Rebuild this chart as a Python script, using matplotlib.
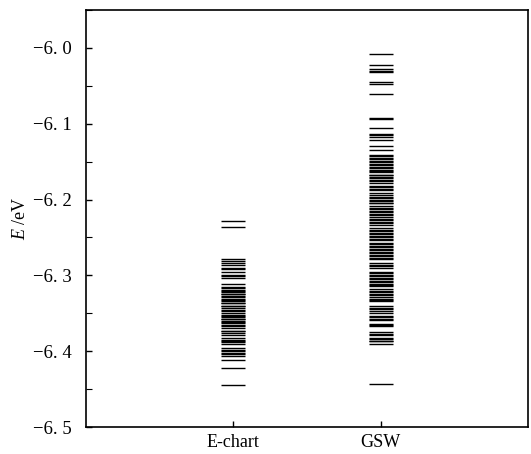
import matplotlib
matplotlib.use("Agg")
import matplotlib.pyplot as plt
from matplotlib.ticker import FixedLocator, MultipleLocator

plt.rcParams['font.family'] = ['Liberation Serif', 'DejaVu Serif']
plt.rcParams['mathtext.fontset'] = 'custom'
plt.rcParams['mathtext.it'] = 'Liberation Serif:italic'
plt.rcParams['mathtext.rm'] = 'Liberation Serif'

categories = ["E-chart", "GSW"]

echart = [-6.228, -6.236,
          -6.278, -6.281, -6.284, -6.286, -6.290, -6.292, -6.295, -6.299, -6.301, -6.303, -6.311,
          -6.316, -6.317, -6.319, -6.320, -6.322, -6.324, -6.325, -6.327, -6.329, -6.331, -6.333, -6.334,
          -6.336, -6.337, -6.340, -6.341, -6.343, -6.346, -6.347, -6.350, -6.352, -6.353, -6.355,
          -6.357, -6.358, -6.360, -6.362, -6.363,
          -6.366, -6.367, -6.369, -6.373, -6.374, -6.376, -6.379, -6.383, -6.385,
          -6.386, -6.388, -6.390,
          -6.396, -6.398, -6.400, -6.402, -6.404, -6.406,
          -6.412, -6.422, -6.444]

gsw = [-6.008, -6.023, -6.028, -6.030, -6.032, -6.045, -6.047, -6.061, -6.092, -6.094, -6.106,
       -6.113, -6.115, -6.118, -6.121, -6.129, -6.135,
       -6.141, -6.143, -6.145, -6.147, -6.149, -6.151, -6.153, -6.155, -6.157, -6.158,
       -6.161, -6.163, -6.164,
       -6.167, -6.168, -6.170, -6.172, -6.174, -6.176, -6.178,
       -6.182, -6.184, -6.186, -6.187,
       -6.192, -6.194, -6.196, -6.198, -6.200, -6.202, -6.204, -6.205,
       -6.209, -6.211, -6.213, -6.215, -6.217, -6.219, -6.220,
       -6.223, -6.225, -6.227, -6.229, -6.231, -6.233,
       -6.238, -6.240, -6.242, -6.244, -6.246, -6.248, -6.250, -6.252, -6.253,
       -6.257, -6.259, -6.261, -6.262,
       -6.265, -6.267, -6.269, -6.271, -6.273, -6.275, -6.277, -6.279,
       -6.284, -6.286, -6.288, -6.290,
       -6.295, -6.297, -6.299, -6.301, -6.303, -6.305, -6.307, -6.309, -6.311, -6.313, -6.314,
       -6.318, -6.320, -6.322, -6.324, -6.326, -6.328,
       -6.331, -6.332, -6.334,
       -6.341, -6.343, -6.345, -6.347, -6.349,
       -6.353, -6.355, -6.357, -6.359,
       -6.364, -6.366, -6.367,
       -6.375, -6.377, -6.378,
       -6.382, -6.384, -6.386, -6.387,
       -6.390, -6.443]

ytick_values = [-6.5, -6.4, -6.3, -6.2, -6.1, -6.0]
ytick_labels = ["\u22126. 5", "\u22126. 4", "\u22126. 3", "\u22126. 2", "\u22126. 1", "\u22126. 0"]

fig = plt.figure(figsize=(5.31, 4.54), dpi=100)
ax = fig.add_axes([86/531, 1-427/454, (528-86)/531, (427-10)/454])

hw = 0.081
for i, series in enumerate([echart, gsw]):
    x = i + 1
    ax.hlines(series, x - hw, x + hw, colors='black', linewidth=1.0)

ax.set_xlim(0, 3)
ax.set_ylim(-6.5, -5.95)
ax.set_xticks([1, 2])
ax.set_xticklabels(categories, fontsize=13)
ax.yaxis.set_major_locator(FixedLocator(ytick_values))
ax.set_yticklabels(ytick_labels, fontsize=13.5)
ax.yaxis.set_minor_locator(MultipleLocator(0.05))
ax.tick_params(axis='both', which='major', direction='in', length=4, width=1)
ax.tick_params(axis='y', which='major', pad=10)
ax.tick_params(axis='x', which='major', pad=5)
ax.tick_params(axis='y', which='minor', direction='in', length=4, width=0.8)
ax.tick_params(axis='x', which='minor', length=0)
for s in ax.spines.values():
    s.set_linewidth(1.2)
ax.set_ylabel("$\\mathit{E}$ /eV", fontsize=13, labelpad=3)

fig.savefig("out.png", dpi=100)
